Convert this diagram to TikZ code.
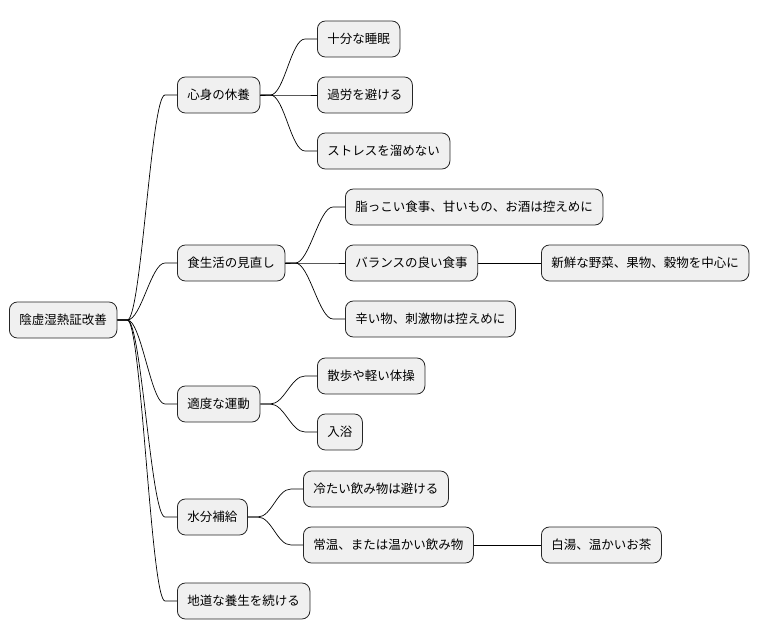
\documentclass[tikz,border=0pt]{standalone}
\usepackage{fontspec}
\newfontfamily\jp{Noto Sans CJK JP}
\begin{document}
\begin{tikzpicture}[x=1pt,y=-1pt,
  box/.style={draw=black!85,fill=black!6,rounded corners=8pt,line width=0.8pt,minimum height=36pt,inner xsep=10pt,anchor=west,font=\jp\fontsize{12.5}{14}\selectfont},
  link/.style={draw=black,line width=0.7pt}]
\useasboundingbox (0,0) rectangle (782,640);
\node[box] (r) at (9,320) {陰虚湿熱証改善};
\node[box] (a) at (177,95) {心身の休養};
\node[box] (b) at (177,263) {食生活の見直し};
\node[box] (c) at (177,404) {適度な運動};
\node[box] (d) at (177,517) {水分補給};
\node[box] (e) at (177,601) {地道な養生を続ける};
\node[box] (a1) at (317,39) {十分な睡眠};
\node[box] (a2) at (317,95) {過労を避ける};
\node[box] (a3) at (317,151) {ストレスを溜めない};
\node[box] (b1) at (345,207) {脂っこい食事、甘いもの、お酒は控えめに};
\node[box] (b2) at (345,263) {バランスの良い食事};
\node[box] (b21) at (541,263) {新鮮な野菜、果物、穀物を中心に};
\node[box] (b3) at (345,319) {辛い物、刺激物は控えめに};
\node[box] (c1) at (317,376) {散歩や軽い体操};
\node[box] (c2) at (317,432) {入浴};
\node[box] (d1) at (303,489) {冷たい飲み物は避ける};
\node[box] (d2) at (303,545) {常温、または温かい飲み物};
\node[box] (d21) at (541,545) {白湯、温かいお茶};
\foreach \p/\c in {r/a,r/b,r/c,r/d,r/e,a/a1,a/a2,a/a3,b/b1,b/b2,b/b3,c/c1,c/c2,d/d1,d/d2}
  \draw[link] (\p.east) -- ++(10,0) .. controls +(14,0) and +(-14,0) .. ([xshift=-12pt]\c.west) -- (\c.west);
\draw[link] (b2.east) -- (b21.west);
\draw[link] (d2.east) -- (d21.west);
\end{tikzpicture}
\end{document}
